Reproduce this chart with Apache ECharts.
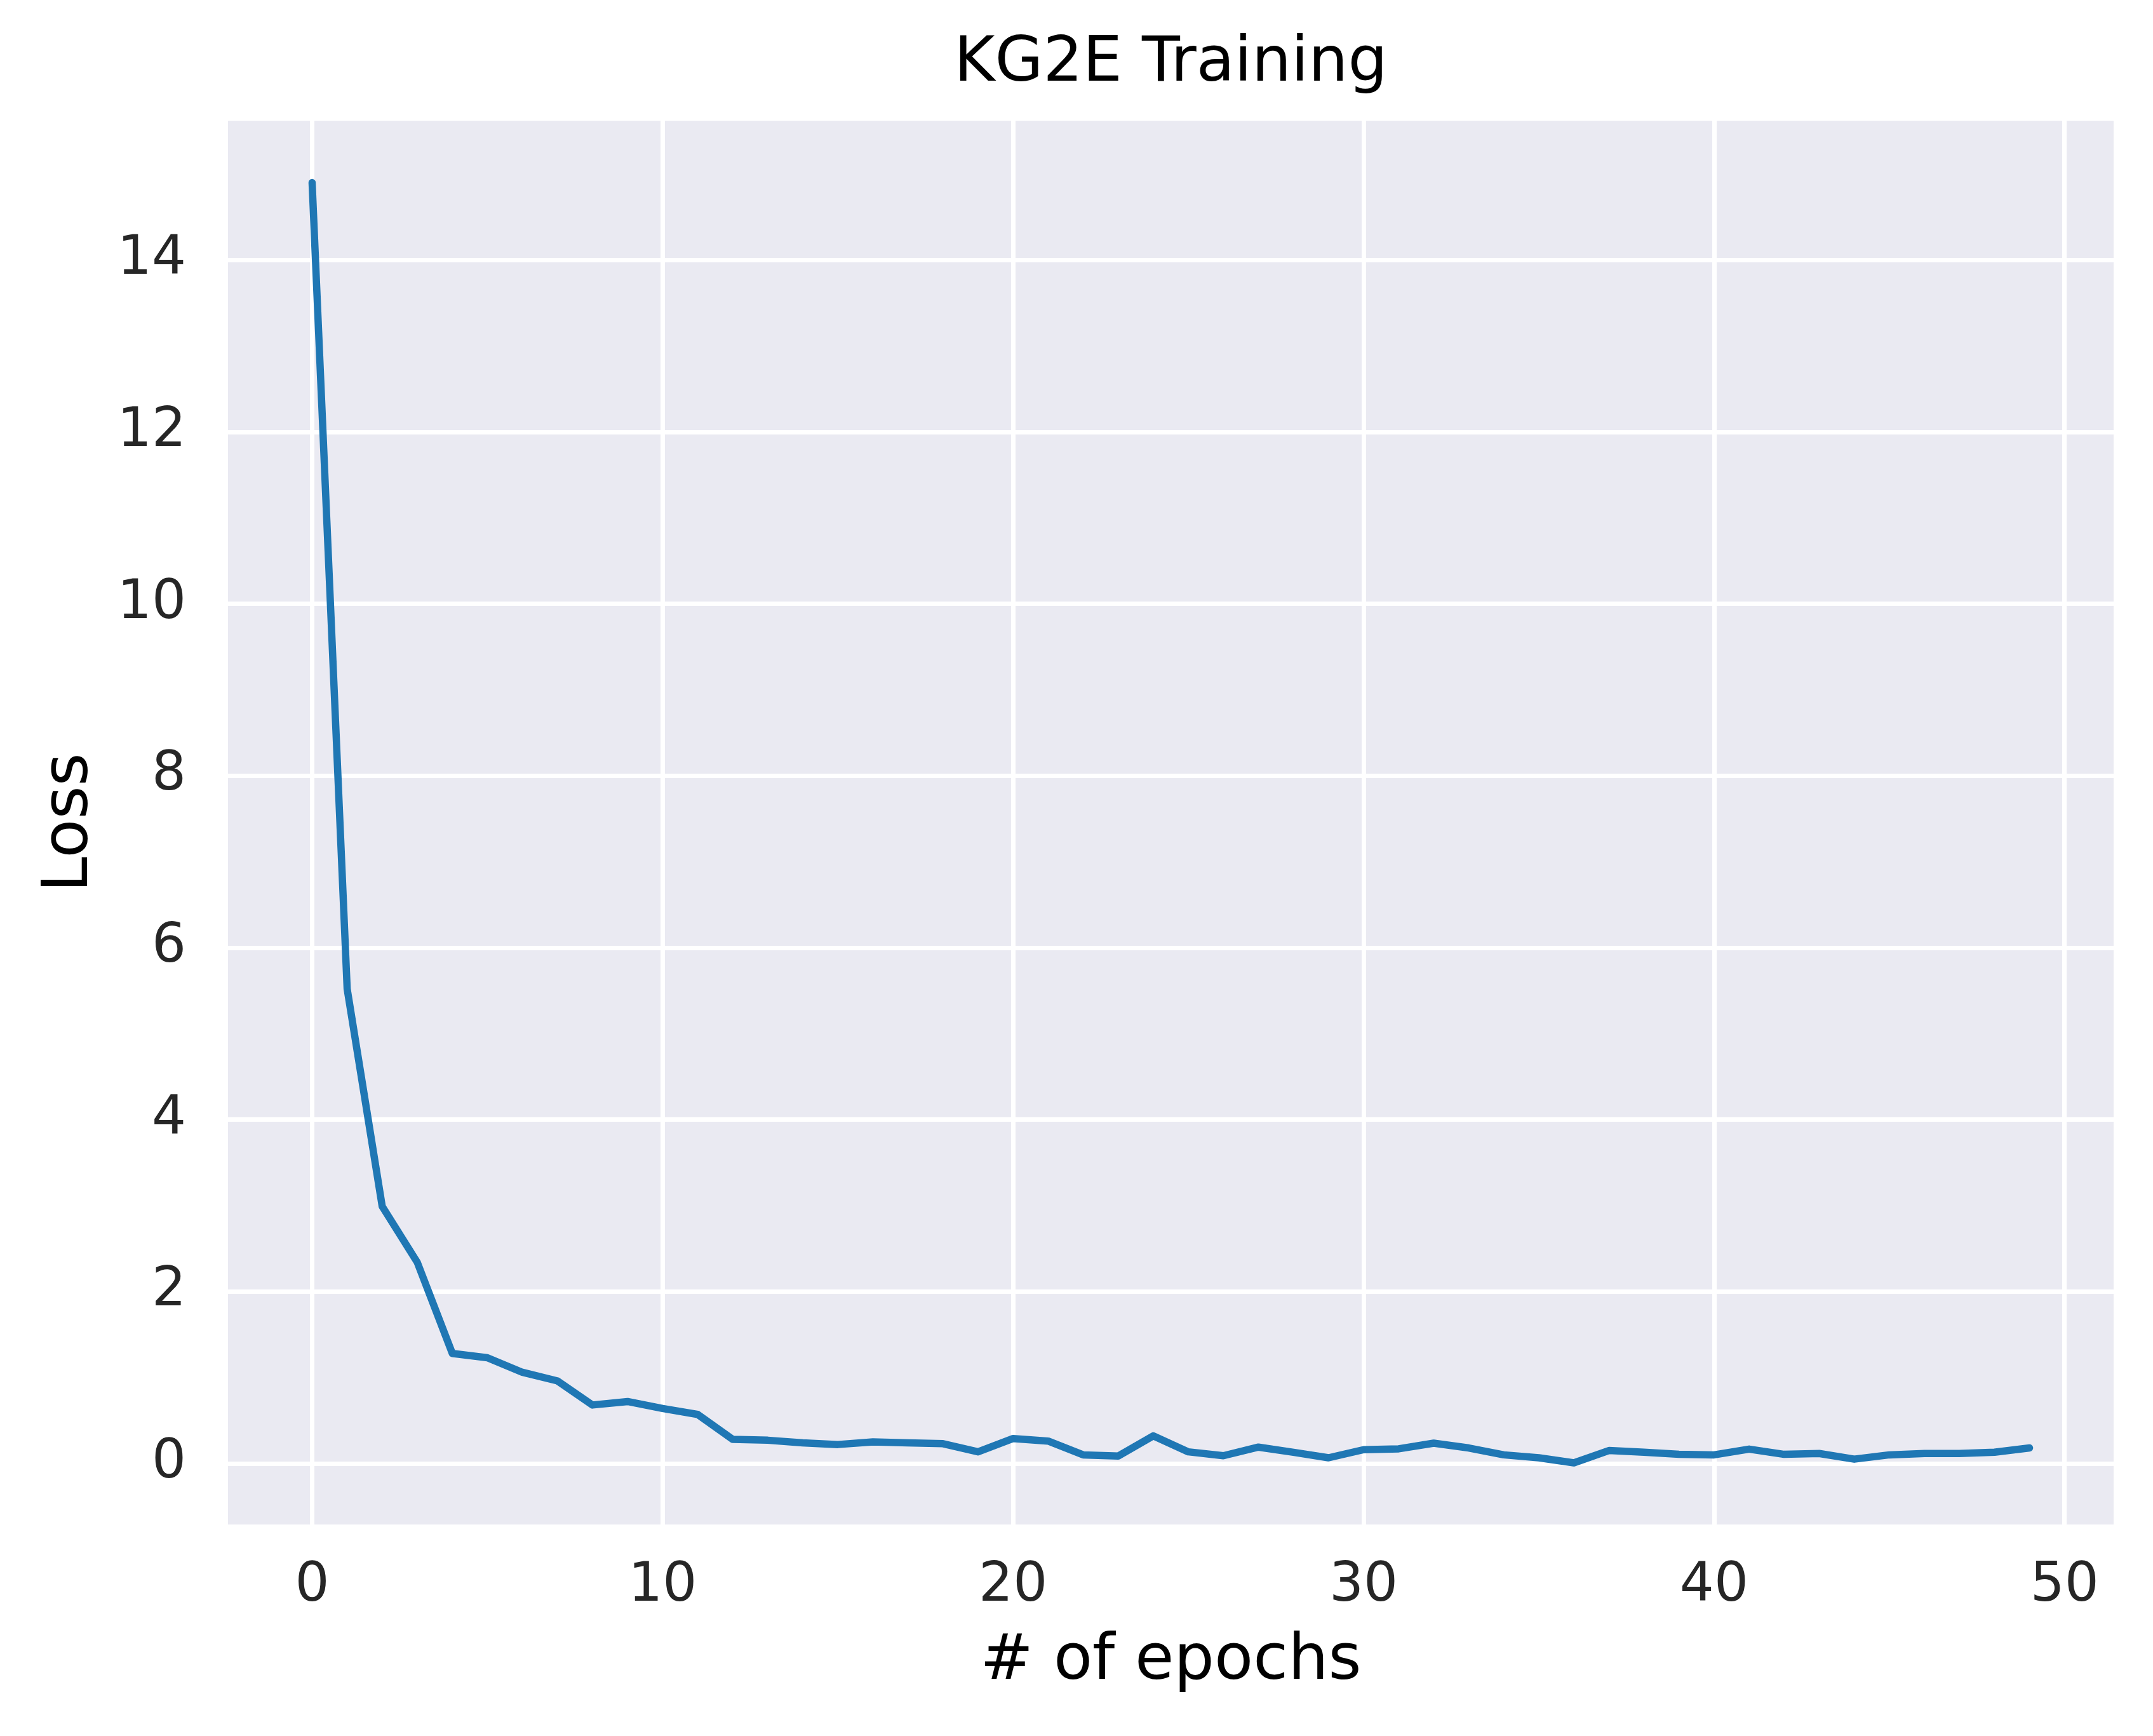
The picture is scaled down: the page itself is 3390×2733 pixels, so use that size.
<!DOCTYPE html>
<html style="height: 100%">
<head>
    <meta charset="utf-8">
    <title>KG2E Training</title>
</head>
<body style="height: 100%; margin: 0; background: #ffffff">
<div id="container" style="width: 3390px; height: 2733px"></div>
<script type="text/javascript" src="https://cdn.jsdelivr.net/npm/echarts@6/dist/echarts.min.js"></script>
<script type="text/javascript">
// loss per epoch
var epochs = [];
for (var i = 0; i < 50; i++) { epochs.push(i); }
var loss = [
    14.90, 5.52, 2.99, 2.34, 1.28, 1.23, 1.06, 0.96, 0.68, 0.72,
    0.64, 0.57, 0.28, 0.27, 0.24, 0.22, 0.25, 0.24, 0.23, 0.135,
    0.29, 0.26, 0.10, 0.086, 0.32, 0.135, 0.09, 0.19, 0.13, 0.066,
    0.16, 0.17, 0.236, 0.18, 0.10, 0.066, 0.007, 0.15, 0.13, 0.106,
    0.10, 0.167, 0.106, 0.116, 0.05, 0.10, 0.116, 0.116, 0.13, 0.18
];
var xTicks = [0, 10, 20, 30, 40, 50];
var yTicks = [0, 2, 4, 6, 8, 10, 12, 14];

var points = epochs.map(function (e, i) { return [e, loss[i]]; });

var font = 'DejaVu Sans';
var myChart = echarts.init(document.getElementById('container'), null, {renderer: 'canvas', devicePixelRatio: 1});

var option = {
    animation: false,
    backgroundColor: '#ffffff',
    grid: {
        left: 359, top: 190, width: 2969, height: 2210,
        containLabel: false,
        outerBoundsMode: 'none',
        show: true,
        backgroundColor: '#eaeaf2',
        borderWidth: 0
    },
    graphic: [{
        type: 'text',
        x: 1843.5,
        y: 102,
        style: {
            text: 'KG2E Training',
            font: '98px "DejaVu Sans"',
            fill: '#000000',
            align: 'center',
            verticalAlign: 'middle'
        }
    }],
    xAxis: {
        type: 'value',
        min: -2.4,
        max: 51.4,
        name: '# of epochs',
        nameLocation: 'middle',
        nameGap: 167,
        nameTextStyle: {fontFamily: font, fontSize: 100, color: '#000000'},
        axisLine: {show: false},
        axisTick: {show: false, customValues: xTicks},
        axisLabel: {
            customValues: xTicks,
            margin: 55,
            fontFamily: font,
            fontSize: 85,
            color: '#262626'
        },
        splitLine: {show: true, lineStyle: {color: '#ffffff', width: 7}}
    },
    yAxis: {
        type: 'value',
        min: -0.71,
        max: 15.62,
        name: 'Loss',
        nameLocation: 'middle',
        nameGap: 198,
        nameTextStyle: {fontFamily: font, fontSize: 100, color: '#000000'},
        axisLine: {show: false},
        axisTick: {show: false, customValues: yTicks},
        axisLabel: {
            customValues: yTicks,
            margin: 66,
            fontFamily: font,
            fontSize: 85,
            color: '#262626'
        },
        splitLine: {show: true, lineStyle: {color: '#ffffff', width: 7}}
    },
    series: [{
        name: 'loss',
        type: 'line',
        data: points,
        showSymbol: false,
        symbol: 'none',
        smooth: false,
        lineStyle: {color: '#1f77b4', width: 11.5, cap: 'round', join: 'round'}
    }]
};
myChart.setOption(option);
</script>
</body>
</html>
